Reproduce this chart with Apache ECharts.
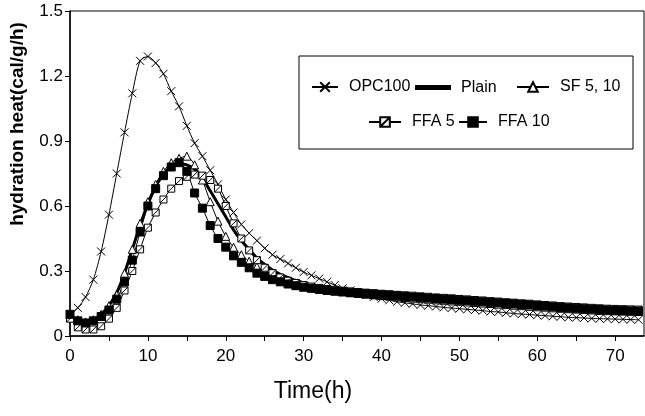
<!DOCTYPE html>
<html>
<head>
<meta charset="utf-8">
<script src="https://cdn.jsdelivr.net/npm/echarts@6/dist/echarts.min.js"></script>
<style>html,body{margin:0;padding:0;background:#fff}#c{width:645px;height:416px}</style>
</head>
<body>
<div id="c"></div>
<script>
// time (h), one reading per hour
var times = [];
for (var i = 0; i <= 73; i++) times.push(i);

var opc100 = [0.10,0.13,0.18,0.26,0.39,0.56,0.75,0.94,1.12,1.27,1.29,1.26,1.21,1.13,1.06,0.97,0.89,0.83,0.765,0.70,
  0.63,0.57,0.515,0.475,0.44,0.405,0.375,0.355,0.335,0.315,
  0.295,0.28,0.265,0.25,0.235,0.22,0.21,0.20,0.19,0.18,
  0.172,0.165,0.158,0.153,0.148,0.143,0.14,0.136,0.132,0.129,
  0.126,0.123,0.12,0.117,0.113,0.111,0.107,0.104,0.101,0.099,
  0.096,0.094,0.091,0.089,0.086,0.085,0.083,0.081,0.08,0.079,
  0.078,0.077,0.076,0.075];

var plain = [0.09,0.07,0.065,0.075,0.10,0.14,0.20,0.29,0.40,0.51,
  0.61,0.69,0.75,0.78,0.795,0.79,0.77,0.73,0.67,0.61,
  0.55,0.49,0.44,0.40,0.36,0.33,0.305,0.285,0.27,0.256,
  0.245,0.236,0.228,0.221,0.215,0.21,0.205,0.2,0.196,0.192,
  0.188,0.185,0.182,0.179,0.176,0.173,0.17,0.167,0.164,0.161,
  0.158,0.156,0.153,0.15,0.148,0.145,0.143,0.14,0.138,0.135,
  0.133,0.131,0.129,0.127,0.125,0.123,0.121,0.119,0.118,0.116,
  0.115,0.114,0.113,0.112];

var sf = [0.10,0.075,0.065,0.075,0.10,0.14,0.19,0.29,0.40,0.52,
  0.62,0.70,0.76,0.80,0.82,0.83,0.79,0.72,0.62,0.53,
  0.46,0.41,0.375,0.345,0.32,0.295,0.275,0.26,0.25,0.24,
  0.232,0.225,0.219,0.213,0.208,0.204,0.2,0.196,0.193,0.19,
  0.187,0.184,0.181,0.178,0.175,0.172,0.17,0.167,0.165,0.162,
  0.16,0.157,0.155,0.152,0.15,0.147,0.145,0.142,0.14,0.137,
  0.135,0.133,0.13,0.128,0.126,0.124,0.122,0.12,0.118,0.117,
  0.116,0.115,0.114,0.113];

var ffa5 = [0.08,0.04,0.03,0.03,0.045,0.08,0.13,0.21,0.30,0.40,
  0.50,0.57,0.63,0.68,0.715,0.735,0.745,0.74,0.72,0.68,
  0.60,0.52,0.45,0.395,0.35,0.315,0.29,0.27,0.255,0.245,
  0.235,0.228,0.222,0.217,0.213,0.209,0.206,0.203,0.2,0.198,
  0.195,0.193,0.19,0.188,0.186,0.183,0.181,0.178,0.176,0.174,
  0.171,0.169,0.166,0.164,0.161,0.159,0.156,0.154,0.151,0.149,
  0.146,0.143,0.141,0.138,0.136,0.134,0.132,0.13,0.128,0.126,
  0.125,0.124,0.123,0.122];

var ffa10 = [0.10,0.07,0.06,0.07,0.09,0.12,0.17,0.25,0.35,0.48,
  0.60,0.68,0.74,0.78,0.80,0.76,0.66,0.59,0.51,0.45,
  0.41,0.37,0.34,0.315,0.29,0.275,0.26,0.25,0.24,0.232,
  0.225,0.22,0.215,0.21,0.207,0.204,0.2,0.198,0.195,0.192,
  0.19,0.187,0.185,0.182,0.18,0.178,0.175,0.173,0.17,0.168,
  0.165,0.163,0.16,0.158,0.155,0.153,0.15,0.148,0.145,0.143,
  0.14,0.138,0.135,0.132,0.13,0.128,0.126,0.124,0.122,0.12,
  0.118,0.117,0.116,0.115];

var yTicks = ['0','0.3','0.6','0.9','1.2','1.5'];
var xTicks = ['0','10','20','30','40','50','60','70'];

function pairs(vals){ return vals.map(function(v,i){ return [times[i], v]; }); }

var FONT = '"Liberation Sans", Arial, sans-serif';
var chart = echarts.init(document.getElementById('c'), null, {renderer:'canvas'});

function mkSeries(name, vals, symbol, size, fill, lw){
  return {
    name: name, type: 'line', data: pairs(vals),
    smooth: 0.25, showAllSymbol: true,
    symbol: symbol, symbolSize: size,
    lineStyle: {color:'#000', width: lw},
    itemStyle: {color: fill, borderColor:'#000', borderWidth: 1},
    emphasis: {disabled: true}, z: 2
  };
}

function mkLegend(item, left, top, w, h){
  return {
    data: [item], left: left, top: top, itemWidth: w, itemHeight: h || 12,
    padding: 0, itemGap: 0, z: 6,
    textStyle: {fontFamily: FONT, fontSize: 16, color:'#000', padding:[0,0,0,6]}
  };
}

chart.setOption({
  animation: false,
  backgroundColor: '#fff',
  grid: {left: 70, top: 11, right: 1, bottom: 80, show: true, borderColor:'#000', borderWidth: 1},
  xAxis: {
    type: 'value', min: 0, max: 73.7, interval: 5,
    axisLine: {show: true, lineStyle: {color:'#000', width: 1.5}},
    axisTick: {show: true, inside: false, length: 5, lineStyle:{color:'#000'}},
    axisLabel: {
      margin: 12, fontFamily: FONT, fontSize: 17, color:'#000', showMaxLabel: false,
      formatter: function(v){ return (v % 10 === 0) ? xTicks[v/10] : ''; }
    },
    splitLine: {show: false}
  },
  yAxis: {
    type: 'value', min: 0, max: 1.5, interval: 0.3,
    axisLine: {show: true, lineStyle: {color:'#000', width: 1.5}},
    axisTick: {show: true, inside: false, length: 5, lineStyle:{color:'#000'}},
    axisLabel: {
      margin: 7, fontFamily: FONT, fontSize: 17, color:'#000',
      formatter: function(v){ return yTicks[Math.round(v/0.3)]; }
    },
    splitLine: {show: false}
  },
  legend: [
    mkLegend('OPC100', 311, 79, 26),
    mkLegend({name:'Plain', icon:'rect'}, 415, 79.5, 34, 3),
    mkLegend('SF 5, 10', 516, 79, 32),
    mkLegend('FFA 5', 368, 114, 32),
    mkLegend('FFA 10', 458, 114, 28)
  ],
  graphic: [
    {type:'rect', z: 5, shape:{x:299, y:56, width:334, height:93},
     style:{fill:'#fff', stroke:'#000', lineWidth:1}},
    {type:'text', x: 18, y: 124, rotation: Math.PI/2, z: 5,
     style:{text:'hydration heat(cal/g/h)', font:'bold 19px "Liberation Sans", Arial, sans-serif',
            fill:'#000', align:'center', verticalAlign:'middle'}},
    {type:'text', x: 313, y: 392, z: 5,
     style:{text:'Time(h)', font:'23px "Liberation Sans", Arial, sans-serif',
            fill:'#000', align:'center', verticalAlign:'middle'}}
  ],
  series: [
    mkSeries('OPC100', opc100, 'path://M0,0L10,10M10,0L0,10', 8, '#000', 1),
    mkSeries('Plain', plain, 'none', 0, '#000', 3),
    mkSeries('SF 5, 10', sf, 'triangle', 8, '#fff', 1),
    mkSeries('FFA 5', ffa5, 'path://M0,0H10V10H0Z M0,10L10,0', 7, '#fff', 1),
    mkSeries('FFA 10', ffa10, 'rect', 8, '#000', 1)
  ]
});
</script>
</body>
</html>
